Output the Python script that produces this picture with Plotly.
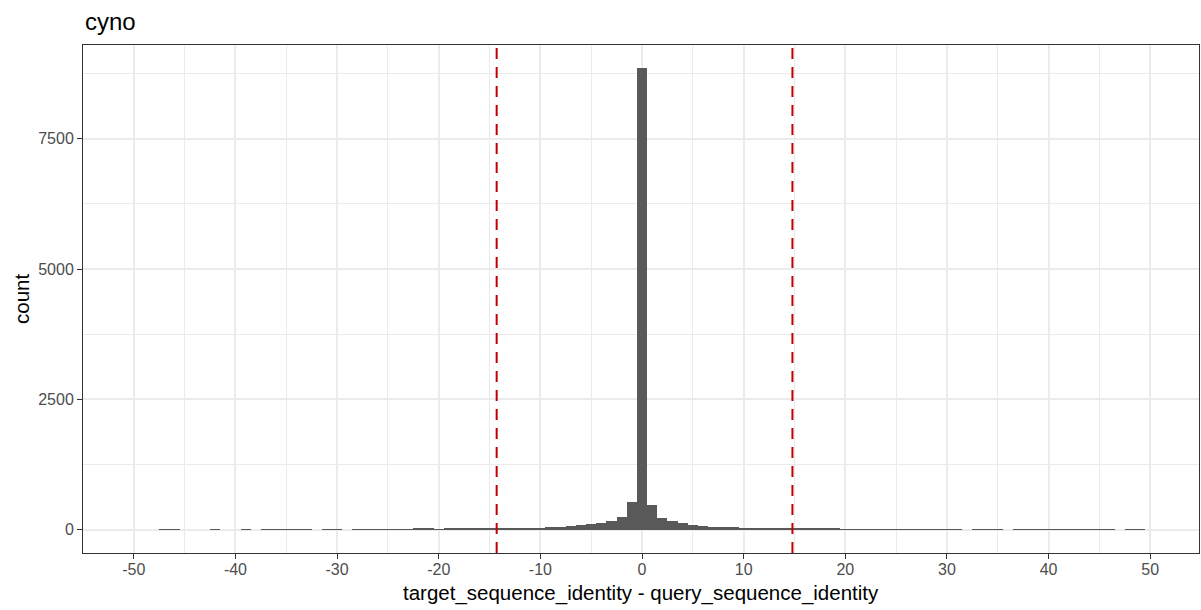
import plotly.graph_objects as go

# Histogram of target_sequence_identity - query_sequence_identity (binwidth 1, centred on integers)
bin_centers = list(range(-50, 51))
counts = [
    # -50 .. -41
    0, 0, 0, 8, 8, 0, 0, 0, 6, 0,
    # -40 .. -31
    0, 6, 0, 8, 8, 8, 8, 8, 0, 8,
    # -30 .. -21
    8, 0, 10, 10, 10, 10, 10, 10, 20, 20,
    # -20 .. -11
    12, 20, 22, 22, 24, 25, 38, 38, 40, 40,
    # -10 .. -1
    42, 62, 64, 66, 96, 109, 128, 173, 256, 540,
    # 0
    8850,
    # 1 .. 10
    475, 236, 178, 128, 96, 77, 60, 58, 56, 45,
    # 11 .. 20
    44, 32, 32, 30, 22, 22, 20, 20, 20, 10,
    # 21 .. 30
    10, 10, 10, 10, 10, 10, 10, 10, 10, 10,
    # 31 .. 40
    10, 0, 8, 8, 8, 0, 8, 8, 8, 8,
    # 41 .. 50
    8, 8, 8, 8, 8, 8, 0, 6, 6, 0,
]
threshold_lines = [-14.3, 14.8]

x_ticks = [-50, -40, -30, -20, -10, 0, 10, 20, 30, 40, 50]
y_ticks = [0, 2500, 5000, 7500]

title_text = "cyno"
x_title = "target_sequence_identity - query_sequence_identity"
y_title = "count"

FONT = "Liberation Sans, Arial, Helvetica, sans-serif"

PANEL_H = 508
PANEL_W = 1116

fig = go.Figure()
fig.add_trace(go.Bar(
    x=bin_centers, y=counts, width=1,
    marker=dict(color="#595959", line=dict(width=0)),
    showlegend=False, hoverinfo="x+y",
))

for xv in threshold_lines:
    fig.add_shape(type="line", xref="x", yref="paper", x0=xv, x1=xv, y0=0, y1=1,
                  line=dict(color="#C00000", width=2, dash="11px,8px"), layer="above")

fig.update_layout(
    width=1201, height=610,
    margin=dict(l=83, r=2, t=45, b=57),
    paper_bgcolor="white", plot_bgcolor="white",
    font=dict(family=FONT, color="#000000"),
    bargap=0,
    annotations=[
        dict(text=title_text, xref="paper", yref="paper", x=0, y=1.0 + 24 / PANEL_H,
             xanchor="left", yanchor="middle", showarrow=False,
             font=dict(size=24, color="#000000", family=FONT)),
        dict(text=x_title, xref="paper", yref="paper", x=0.5, y=-40 / PANEL_H,
             xanchor="center", yanchor="middle", showarrow=False,
             font=dict(size=20.5, color="#000000", family=FONT)),
        dict(text=y_title, xref="paper", yref="paper", x=-62 / PANEL_W, y=0.5,
             xanchor="center", yanchor="middle", showarrow=False, textangle=-90,
             font=dict(size=20.5, color="#000000", family=FONT)),
    ],
)

fig.update_xaxes(
    range=[-55, 54.8], tickvals=x_ticks, ticktext=[str(v) for v in x_ticks],
    ticks="outside", ticklen=5, tickwidth=1, tickcolor="#333333",
    ticklabelstandoff=-3,
    tickfont=dict(size=16, color="#4D4D4D", family=FONT),
    showgrid=True, gridcolor="#EBEBEB", gridwidth=1.8,
    minor=dict(dtick=5, tick0=-55, showgrid=True, gridcolor="#EBEBEB", gridwidth=1.4, ticks=""),
    showline=True, linecolor="#333333", linewidth=1, mirror=True,
    zeroline=False,
)
fig.update_yaxes(
    range=[-443, 9293], tickvals=y_ticks, ticktext=[str(v) for v in y_ticks],
    ticks="outside", ticklen=5, tickwidth=1, tickcolor="#333333",
    tickfont=dict(size=16, color="#4D4D4D", family=FONT),
    showgrid=True, gridcolor="#EBEBEB", gridwidth=1.8,
    minor=dict(dtick=1250, tick0=0, showgrid=True, gridcolor="#EBEBEB", gridwidth=1.4, ticks=""),
    showline=True, linecolor="#333333", linewidth=1, mirror=True,
    zeroline=False,
)

fig.write_html("out.html")
